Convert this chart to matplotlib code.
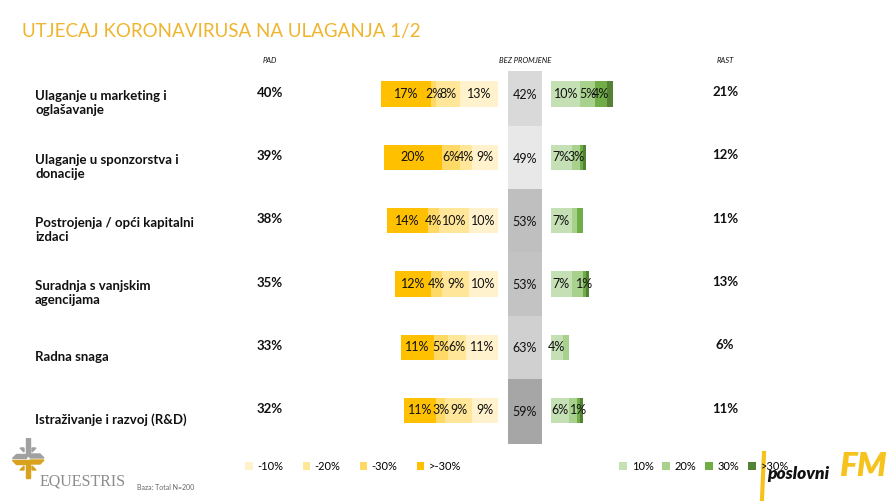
import matplotlib.pyplot as plt
import numpy as np
from matplotlib.patches import Polygon

plt.rcParams['font.family'] = ['Lato', 'DejaVu Sans']

# --- data ---
items = ['Ulaganje u marketing i\noglašavanje',
         'Ulaganje u sponzorstva i\ndonacije',
         'Postrojenja / opći kapitalni\nizdaci',
         'Suradnja s vanjskim\nagencijama',
         'Radna snaga',
         'Istraživanje i razvoj (R&D)']
pad_total = [40, 39, 38, 35, 33, 32]
rast_total = [21, 12, 11, 13, 6, 11]
bez_promjene = [42, 49, 53, 53, 63, 59]

neg_labels = ['-10%', '-20%', '-30%', '>-30%']
neg_10 = [13, 9, 10, 10, 11, 9]
neg_20 = [8, 4, 10, 9, 6, 9]
neg_30 = [2, 6, 4, 4, 5, 3]
neg_over30 = [17, 20, 14, 12, 11, 11]

pos_labels = ['10%', '20%', '30%', '>30%']
pos_10 = [10, 7, 7, 7, 4, 6]
pos_20 = [5, 3, 2, 4, 2, 3]
pos_30 = [4, 1, 2, 1, 0, 1]
pos_over30 = [2, 1, 0, 1, 0, 1]
# which segment labels are printed on the slide
pos_show = [[True, True, True, False],
            [True, True, False, False],
            [True, False, False, False],
            [True, False, True, False],
            [True, False, False, False],
            [True, False, True, False]]

neg_colors = ['#FFF2CC', '#FFE699', '#FFD966', '#FFC000']
pos_colors = ['#C5E0B4', '#A9D18E', '#70AD47', '#548235']
gray_colors = ['#D9D9D9', '#E8E8E8', '#BFBFBF', '#C3C3C3', '#D0D0D0', '#A6A6A6']

fig = plt.figure(figsize=(8.9, 5.01), dpi=100)
ax = fig.add_axes([0, 0, 1, 1])
# 1 % = 2.93 px, zero of the "pad" side at x = 498 px, rows 63.3 px apart
ax.set_xlim(-498 / 2.93, (890 - 498) / 2.93)
ax.set_ylim((501 - 94) / 63.3, -94 / 63.3)
ax.axis('off')

y = np.arange(len(items))
bar_h = 0.4
pos_start = 18.1
seg_fs = 9

# negative side, built outward from zero
neg_sets = [neg_10, neg_20, neg_30, neg_over30]
left = np.zeros(len(items))
neg_bars = []
for vals, col, lab in zip(neg_sets, neg_colors, neg_labels):
    vals = np.array(vals)
    b = ax.barh(y, -vals, left=-left, height=bar_h, color=col, label=lab)
    neg_bars.append(b)
    for yi, v, l in zip(y, vals, left):
        ax.text(-(l + v / 2), yi, f'{v}%', ha='center', va='center',
                fontsize=seg_fs, color='#111111')
    left = left + vals

# neutral column
edges = np.concatenate([[-0.37], y[:-1] + 0.5, [y[-1] + 0.53]])
ax.bar(np.full(len(items), 9.2), np.diff(edges), bottom=edges[:-1], width=11.6,
       color=gray_colors, align='center')
for yi, v in zip(y, bez_promjene):
    ax.text(9.2, yi + 0.02, f'{v}%', ha='center', va='center', fontsize=seg_fs,
            color='#111111')

# positive side
pos_sets = [pos_10, pos_20, pos_30, pos_over30]
left = np.full(len(items), pos_start)
pos_bars = []
for k, (vals, col, lab) in enumerate(zip(pos_sets, pos_colors, pos_labels)):
    vals = np.array(vals)
    b = ax.barh(y, vals, left=left, height=bar_h, color=col, label=lab)
    pos_bars.append(b)
    for i, (yi, v, l) in enumerate(zip(y, vals, left)):
        if pos_show[i][k]:
            ax.text(l + v / 2, yi, f'{v}%', ha='center', va='center',
                    fontsize=seg_fs, color='#111111')
    left = left + vals

# row labels and totals
for yi, name, p, r in zip(y, items, pad_total, rast_total):
    ax.text(-158, yi + 0.15, name, ha='left', va='center', fontsize=9.5,
            fontweight='bold', color='#111111', linespacing=1.2)
    ax.text(-77.8, yi - 0.02, f'{p}%', ha='center', va='center', fontsize=9.5,
            fontweight='bold', color='#111111')
    ax.text(77.5, yi - 0.03, f'{r}%', ha='center', va='center', fontsize=9.5,
            fontweight='bold', color='#111111')

head_y = (60 - 94) / 63.3
for xh, txt in [(-77.8, 'PAD'), (9.2, 'BEZ PROMJENE'), (77.5, 'RAST')]:
    ax.text(xh, head_y, txt, ha='center', va='center', fontsize=5.5,
            style='italic', color='#111111')

fig.text(22 / 890, 1 - 31 / 501, 'UTJECAJ KORONAVIRUSA NA ULAGANJA 1/2',
         ha='left', va='center', fontsize=13.5, color='#EFB52F')

# legends
fig.legend(handles=neg_bars, loc='center left', ncol=4, frameon=False,
           bbox_to_anchor=(241 / 890, 1 - 466 / 501), fontsize=8,
           handlelength=0.7, handleheight=0.7, handletextpad=0.4,
           columnspacing=1.7, borderaxespad=0)
fig.legend(handles=pos_bars, loc='center left', ncol=4, frameon=False,
           bbox_to_anchor=(615 / 890, 1 - 466 / 501), fontsize=8,
           handlelength=0.7, handleheight=0.7, handletextpad=0.4,
           columnspacing=0.8, borderaxespad=0)

# Equestris logo (rough)
lx = fig.add_axes([8 / 890, 1 - 482 / 501, 40 / 890, 44 / 501])
lx.set_xlim(0, 40)
lx.set_ylim(0, 44)
lx.axis('off')
gray_parts = [[(18, 44), (22, 44), (22, 26), (18, 26)],
              [(4, 24), (18, 24), (18, 28), (8, 28)],
              [(22, 24), (36, 24), (32, 28), (22, 28)],
              [(12, 34), (16, 30), (16, 34)], [(24, 30), (28, 34), (24, 34)]]
gold_parts = [[(18, 22), (22, 22), (22, 4), (18, 4)],
              [(4, 22), (18, 22), (18, 18), (8, 18)],
              [(22, 22), (36, 22), (32, 18), (22, 18)],
              [(12, 12), (16, 16), (16, 12)], [(24, 16), (28, 12), (24, 12)]]
for pts in gray_parts:
    lx.add_patch(Polygon(pts, color='#A0A0A0'))
for pts in gold_parts:
    lx.add_patch(Polygon(pts, color='#D9A21E'))
fig.text(40 / 890, 1 - 481 / 501, 'EQUESTRIS', family='Liberation Serif',
         fontsize=11.5, color='#8C8C8C', va='center', ha='left')
fig.text(137 / 890, 1 - 487 / 501, 'Baza: Total N=200', fontsize=5,
         color='#666666', va='center', ha='left')

# poslovniFM logo (rough)
fig.add_artist(plt.Line2D([764 / 890, 762 / 890], [1 - 453 / 501, 1 - 499 / 501],
                          color='#F6C21C', lw=3))
fig.text(767 / 890, 1 - 474 / 501, 'poslovni', fontsize=12.5, fontweight='heavy',
         style='italic', color='#111111', va='center', ha='left')
fig.text(839 / 890, 1 - 466 / 501, 'FM', fontsize=24, fontweight='heavy',
         style='italic', color='#F6C21C', va='center', ha='left')

fig.savefig('out.png', dpi=100)
